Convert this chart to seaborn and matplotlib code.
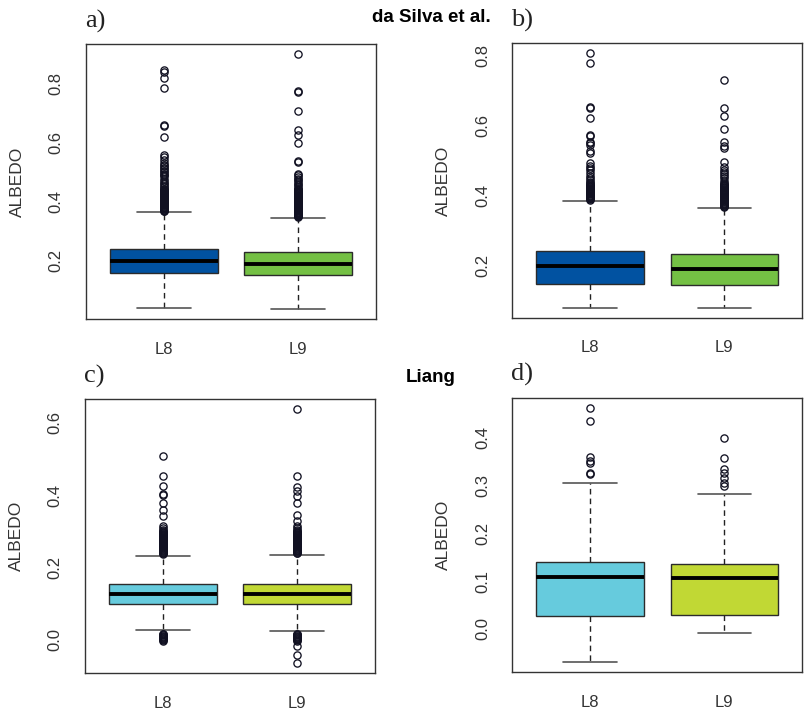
import numpy as np
import pandas as pd
import matplotlib
matplotlib.use("Agg")
import matplotlib.pyplot as plt
import seaborn as sns

# ---------------- data ----------------
sensors = ["L8", "L9"]
panel_tags = ["a)", "b)", "c)", "d)"]
group_titles = ["da Silva et al.", "Liang"]

# summary values per panel: [L8, L9]
q1 = {"a": [0.158, 0.151], "b": [0.147, 0.144], "c": [0.100, 0.100], "d": [0.0274, 0.0288]}
med = {"a": [0.200, 0.189], "b": [0.200, 0.192], "c": [0.127, 0.127], "d": [0.1095, 0.106]}
q3 = {"a": [0.241, 0.229], "b": [0.243, 0.233], "c": [0.154, 0.155], "d": [0.1404, 0.1355]}
w_lo = {"a": [0.039, 0.036], "b": [0.081, 0.081], "c": [0.026, 0.023], "d": [-0.0695, -0.0084]}
w_hi = {"a": [0.365, 0.345], "b": [0.385, 0.366], "c": [0.232, 0.234], "d": [0.305, 0.282]}

out_a_L8 = [0.367, 0.369, 0.371, 0.373, 0.375, 0.377, 0.379, 0.381, 0.383, 0.385,
            0.387, 0.389, 0.391, 0.393, 0.395, 0.397, 0.399, 0.401, 0.403, 0.405,
            0.407, 0.409, 0.411, 0.413, 0.415, 0.417, 0.419, 0.421, 0.423, 0.425,
            0.427, 0.429, 0.431, 0.433, 0.435, 0.437, 0.439, 0.441, 0.443,
            0.448, 0.452, 0.458, 0.464, 0.471, 0.478, 0.485, 0.490, 0.495, 0.500,
            0.505, 0.510, 0.515, 0.520, 0.525, 0.530, 0.540, 0.550, 0.558, 0.620,
            0.655, 0.658, 0.785, 0.819, 0.838, 0.845]
out_a_L9 = [0.348, 0.350, 0.352, 0.354, 0.356, 0.358, 0.360, 0.362, 0.364, 0.366,
            0.368, 0.370, 0.372, 0.374, 0.376, 0.378, 0.380, 0.382, 0.384, 0.386,
            0.388, 0.390, 0.392, 0.394, 0.396, 0.398, 0.400, 0.402, 0.404, 0.406,
            0.408, 0.410, 0.412, 0.414, 0.416, 0.418, 0.420, 0.422, 0.424, 0.426,
            0.428, 0.430, 0.432, 0.434, 0.436, 0.438, 0.440, 0.442, 0.444,
            0.450, 0.455, 0.460, 0.466, 0.472, 0.478, 0.484, 0.490, 0.495, 0.533,
            0.536, 0.600, 0.626, 0.643, 0.708, 0.772, 0.776, 0.898]
out_b_L8 = [0.389, 0.391, 0.393, 0.395, 0.397, 0.399, 0.401, 0.403, 0.405, 0.407,
            0.409, 0.411, 0.413, 0.415, 0.417, 0.419, 0.421, 0.423, 0.425, 0.427,
            0.429, 0.431, 0.433, 0.436, 0.440, 0.446, 0.452, 0.458, 0.466, 0.474,
            0.480, 0.486, 0.494, 0.523, 0.527, 0.545, 0.551, 0.555, 0.570, 0.575,
            0.623, 0.650, 0.653, 0.781, 0.807]
out_b_L9 = [0.368, 0.370, 0.372, 0.374, 0.376, 0.378, 0.380, 0.382, 0.384, 0.386,
            0.388, 0.390, 0.392, 0.394, 0.396, 0.398, 0.400, 0.402, 0.404, 0.406,
            0.408, 0.410, 0.412, 0.414, 0.416, 0.418, 0.420, 0.422, 0.424, 0.426,
            0.428, 0.430, 0.432, 0.435, 0.437, 0.443, 0.450, 0.456, 0.462, 0.468,
            0.475, 0.484, 0.496, 0.538, 0.542, 0.553, 0.592, 0.628, 0.652, 0.730]
out_c_L8 = [0.237, 0.239, 0.241, 0.243, 0.245, 0.247, 0.249, 0.251, 0.253, 0.255,
            0.257, 0.259, 0.261, 0.263, 0.265, 0.267, 0.269, 0.271, 0.273, 0.275,
            0.277, 0.279, 0.281, 0.283, 0.285, 0.287, 0.289, 0.291, 0.293, 0.295,
            0.297, 0.299, 0.302, 0.305, 0.310, 0.314, 0.343, 0.360, 0.379, 0.400,
            0.402, 0.425, 0.454, 0.508,
            0.017, 0.015, 0.013, 0.011, 0.009, 0.007, 0.005, 0.003, 0.001, -0.001,
            -0.003]
out_c_L9 = [0.239, 0.241, 0.243, 0.245, 0.247, 0.249, 0.251, 0.253, 0.255, 0.257,
            0.259, 0.261, 0.263, 0.265, 0.267, 0.269, 0.271, 0.273, 0.275, 0.277,
            0.279, 0.281, 0.283, 0.285, 0.287, 0.289, 0.291, 0.293, 0.295, 0.297,
            0.299, 0.302, 0.305, 0.310, 0.315, 0.328, 0.346, 0.377, 0.397, 0.411,
            0.423, 0.454, 0.637,
            0.017, 0.015, 0.013, 0.011, 0.009, 0.007, 0.005, 0.003, 0.001, -0.001,
            -0.004, -0.0166, -0.0415, -0.0646]
out_d_L8 = [0.3236, 0.327, 0.348, 0.352, 0.3587, 0.436, 0.4625]
out_d_L9 = [0.299, 0.306, 0.3166, 0.327, 0.334, 0.357, 0.3987]

outliers = {"a": [out_a_L8, out_a_L9], "b": [out_b_L8, out_b_L9],
            "c": [out_c_L8, out_c_L9], "d": [out_d_L8, out_d_L9]}

yticks = {"a": [0.2, 0.4, 0.6, 0.8], "b": [0.2, 0.4, 0.6, 0.8],
          "c": [0.0, 0.1, 0.2, 0.3, 0.4, 0.5, 0.6], "d": [0.0, 0.1, 0.2, 0.3, 0.4]}
ytick_labels = {"a": ["0.2", "0.4", "0.6", "0.8"], "b": ["0.2", "0.4", "0.6", "0.8"],
                "c": ["0.0", "", "0.2", "", "0.4", "", "0.6"],
                "d": ["0.0", "0.1", "0.2", "0.3", "0.4"]}

palettes = {"a": ["#0152A1", "#74C044"], "b": ["#0152A1", "#74C044"],
            "c": ["#66CBDD", "#C1D834"], "d": ["#66CBDD", "#C1D834"]}


def build_frame(key, n_rep=400):
    rows = []
    for i, s in enumerate(sensors):
        vals = ([w_lo[key][i]] + [q1[key][i]] * n_rep + [med[key][i]] * n_rep
                + [q3[key][i]] * n_rep + [w_hi[key][i]] + list(outliers[key][i]))
        rows.append(pd.DataFrame({"sensor": s, "albedo": vals}))
    return pd.concat(rows, ignore_index=True)


# ---------------- figure ----------------
sns.set_style("white")
plt.rcParams["font.family"] = ["Liberation Sans", "DejaVu Sans"]

W, H = 806, 714
fig = plt.figure(figsize=(W / 100, H / 100), dpi=100)

# axes rectangles in pixels: left, top, right, bottom
rects = {"a": (86, 44.3, 376, 319.3), "b": (512.3, 43.3, 802.3, 317.7),
         "c": (85, 399.3, 375, 673.3), "d": (512.3, 397.7, 802.3, 672.3)}

edge = "#2b2b2b"
for idx, key in enumerate(["a", "b", "c", "d"]):
    l, t, r, b = rects[key]
    ax = fig.add_axes([l / W, (H - b) / H, (r - l) / W, (b - t) / H])
    df = build_frame(key)
    sns.boxplot(data=df, x="sensor", y="albedo", hue="sensor", palette=palettes[key],
                saturation=1, legend=False, width=0.8, whis=1.5, linecolor=edge,
                linewidth=1.0, ax=ax,
                medianprops=dict(color="black", linewidth=2.8),
                whiskerprops=dict(color="#222222", linestyle=(0, (4, 3)), linewidth=1.0),
                capprops=dict(color="#555555", linewidth=1.2),
                flierprops=dict(marker="o", markerfacecolor="none", markeredgecolor="#111122",
                                markersize=5.2, markeredgewidth=0.95))
    allv = df["albedo"].to_numpy()
    lo, hi = allv.min(), allv.max()
    pad = 0.04 * (hi - lo)
    ax.set_ylim(lo - pad, hi + pad)
    ax.set_xlim(-0.58, 1.58)
    ax.set_yticks(yticks[key])
    ax.set_yticklabels(ytick_labels[key], rotation=90, va="center")
    ax.set_xticks([0, 1])
    ax.set_xticklabels(sensors)
    ax.tick_params(axis="both", direction="out", length=7, width=1.0, color="#333333",
                   labelsize=12, labelcolor="#333333")
    ax.tick_params(axis="y", pad=9)
    ax.tick_params(axis="x", pad=9)
    ax.set_xlabel("")
    ax.set_ylabel("ALBEDO", fontsize=12.5, color="#333333", labelpad=17)
    for sp in ax.spines.values():
        sp.set_visible(True)
        sp.set_color("#333333")
        sp.set_linewidth(1.0)
    fig.text((l - 1) / W, 1 - (t - 23) / H, panel_tags[idx], fontsize=19,
             family=["Liberation Serif", "DejaVu Serif"], ha="left", va="center",
             color="#222222")

fig.text(431 / W, 1 - 17 / H, group_titles[0], fontsize=13.5, fontweight="bold",
         ha="center", va="center", color="black")
fig.text(431 / W, 1 - 377 / H, group_titles[1], fontsize=13.5, fontweight="bold",
         ha="center", va="center", color="black")

fig.savefig("out.png", dpi=100)
